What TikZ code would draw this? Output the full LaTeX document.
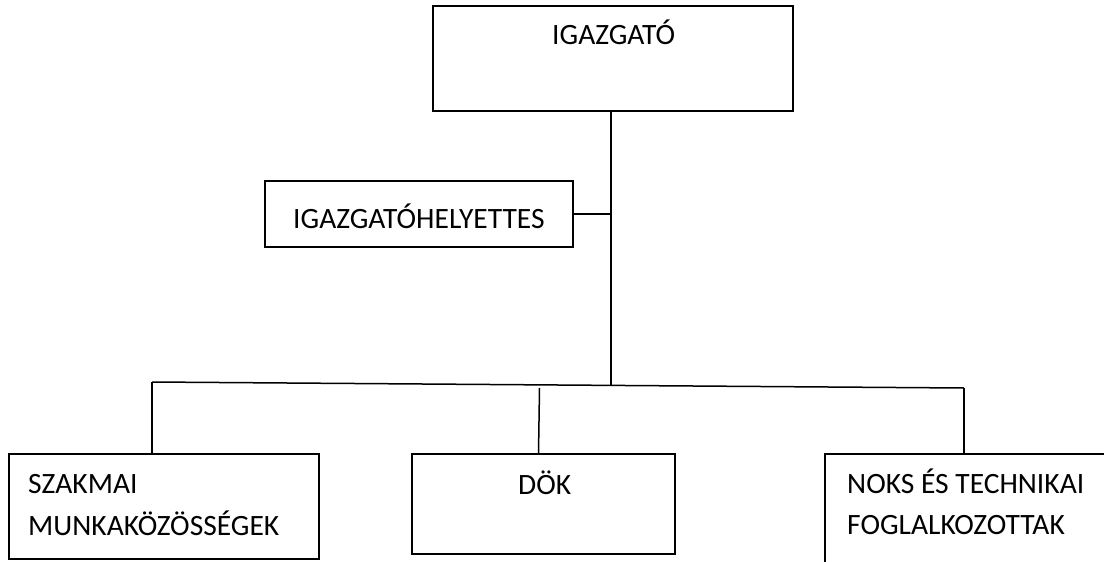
\documentclass[tikz,border=0pt]{standalone}
\usepackage{fontspec}
\setmainfont{Carlito}
\begin{document}
\begin{tikzpicture}[x=1pt,y=-1pt,
  box/.style={draw=black,line width=1.5pt,inner sep=0pt,outer sep=0pt,anchor=north west},
  lbl/.style={inner sep=0pt,anchor=base west,font=\fontsize{29.5}{42}\selectfont},
  conn/.style={draw=black,line width=1.5pt}]
\useasboundingbox (0,0) rectangle (1104,562);
\clip (0,0) rectangle (1104,562);
\fill[white] (0,0) rectangle (1104,562);
% boxes
\node[box,minimum width=360pt,minimum height=105pt] (igbox) at (433,6) {};
\node[box,minimum width=308pt,minimum height=66pt] (depbox) at (265,181) {};
\node[box,minimum width=310pt,minimum height=105pt] (szbox) at (9,454) {};
\node[box,minimum width=263pt,minimum height=100pt] (dokbox) at (412,454) {};
\node[box,minimum width=320pt,minimum height=150pt] (noksbox) at (825,454) {};
% texts
\node[lbl] (igtxt) at (552,45) {IGAZGATÓ};
\node[lbl] (deptxt) at (293,228) {IGAZGATÓHELYETTES};
\node[lbl] (sztxta) at (28,493) {SZAKMAI};
\node[lbl] (sztxtb) at (28,535) {MUNKAKÖZÖSSÉGEK};
\node[lbl] (doktxt) at (518,494) {DÖK};
\node[lbl] (nokstxta) at (847,493) {NOKS ÉS TECHNIKAI};
\node[lbl] (nokstxtb) at (847,534) {FOGLALKOZOTTAK};
% connectors
\coordinate (busmid) at (611,385);
\coordinate (busL) at (152,382);
\coordinate (busR) at (964,388);
\coordinate (doktop) at (539.5,388);
\draw[conn] (busmid |- igbox.south) -- (busmid);
\draw[conn] (depbox.east) -- (depbox.east -| busmid);
\draw[conn] (busL) -- (busR);
\draw[conn] (busL) -- (busL |- szbox.north);
\draw[conn] (doktop) -- ([xshift=-1pt]doktop |- dokbox.north);
\draw[conn] (busR) -- (busR |- noksbox.north);
\end{tikzpicture}
\end{document}
